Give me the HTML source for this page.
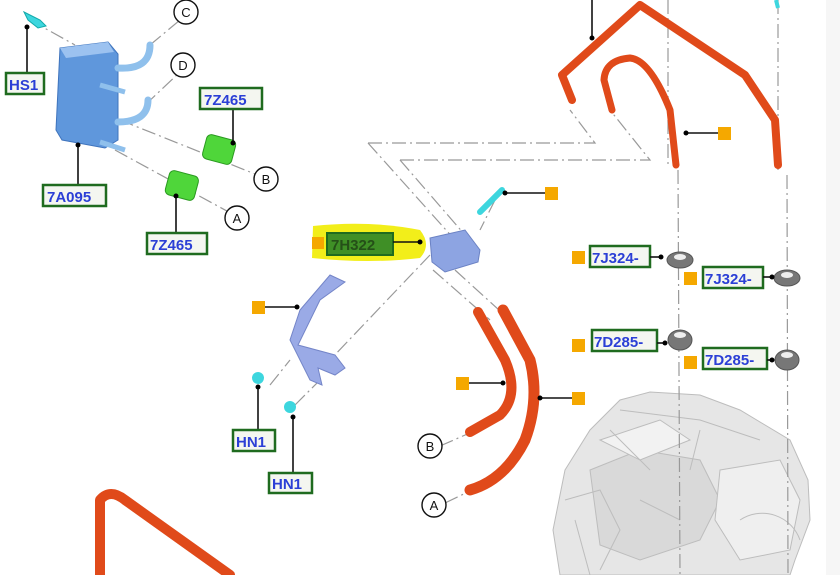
<!DOCTYPE html>
<html><head><meta charset="utf-8"><style>
html,body{margin:0;padding:0;background:#fff;}
svg{display:block;}
.lb{font-family:"Liberation Sans",sans-serif;font-weight:bold;font-size:15px;fill:#2b3fd6;}
.bx{fill:#f4f6f0;stroke:#1f6b1f;stroke-width:2.5;}
.ld{stroke:#111;stroke-width:1.6;fill:none;}
.dd{stroke:#999;stroke-width:1.2;fill:none;stroke-dasharray:14 4 2 4;}
.cl{fill:#fff;stroke:#111;stroke-width:1.4;}
.ct{font-family:"Liberation Sans",sans-serif;font-size:13px;fill:#111;text-anchor:middle;}
.sq{fill:#f5a800;}
.or{stroke:#e04a1a;fill:none;stroke-linecap:round;stroke-linejoin:round;}
</style></head><body>
<svg width="840" height="575" viewBox="0 0 840 575" xmlns="http://www.w3.org/2000/svg">
<rect width="840" height="575" fill="#fff"/>
<rect x="826" y="0" width="14" height="575" fill="#f6f6f6"/>
<!-- transmission -->
<g fill="#e6e6e6" stroke="#bdbdbd" stroke-width="1">
<path d="M565 470 L590 430 L620 400 L650 392 L700 395 L740 410 L790 440 L808 480 L810 520 L795 560 L790 575 L560 575 L553 530 Z"/>
<path d="M590 470 L640 450 L700 460 L720 500 L700 540 L640 560 L600 545 Z" fill="#d9d9d9"/>
<path d="M720 470 L780 460 L800 500 L790 550 L740 560 L715 520 Z" fill="#efefef"/>
<path d="M600 440 L660 420 L690 440 L640 460 Z" fill="#f2f2f2"/>
<path d="M740 520 a40 40 0 0 1 60 20" fill="none"/>
<path d="M565 500 L600 490 L620 530 L600 570" fill="none"/>
<path d="M620 410 L700 420 L760 440 M610 430 L650 470 M700 430 L690 470 M575 520 L590 575 M640 500 L680 520" fill="none"/>
</g>
<!-- dash-dot lines -->
<g class="dd">
<path d="M368 143 L595 143 L570 110"/>
<path d="M368 143 L455 240"/>
<path d="M400 160 L650 160 L610 110"/>
<path d="M400 160 L465 235"/>
<path d="M430 255 L330 360"/>
<path d="M433 270 L490 320"/>
<path d="M455 270 L510 320"/>
<path d="M668 0 L668 165"/>
<path d="M678 170 L680 575"/>
<path d="M778 0 L778 170"/>
<path d="M787 175 L788 575"/>
<path d="M30 20 L75 45"/>
<path d="M120 120 L265 178"/>
<path d="M115 150 L236 216"/>
<path d="M150 45 L180 20"/>
<path d="M145 105 L180 72"/>
<path d="M440 446 L472 432"/>
<path d="M445 503 L472 490"/>
<path d="M495 200 L480 230"/>
<path d="M270 385 L290 360"/>
<path d="M295 405 L320 380"/>
</g>
<!-- cooler -->
<g>
<path d="M60 48 L108 42 L118 54 L118 140 L105 148 L62 140 L56 130 Z" fill="#5f97dc" stroke="#3f74bd"/>
<path d="M60 48 L108 42 L114 52 L66 58 Z" fill="#9cc2f0"/>
<path d="M118 68 Q150 70 150 45" class="or" style="stroke:#8fc0ec;stroke-width:7"/>
<path d="M118 122 Q148 122 148 100" class="or" style="stroke:#8fc0ec;stroke-width:7"/>
<path d="M100 85 L125 92" stroke="#8fc0ec" stroke-width="5"/>
<path d="M100 142 L125 150" stroke="#8fc0ec" stroke-width="5"/>
</g>
<path d="M24 12 L40 20 L46 26 L38 28 L28 20 Z" fill="#3dd6de" stroke="#1aa"/>
<g fill="#4fd63a" stroke="#2a9a20">
<rect x="204" y="137" width="30" height="25" rx="5" transform="rotate(15 219 150)"/>
<rect x="167" y="173" width="30" height="25" rx="5" transform="rotate(15 182 185)"/>
</g>
<!-- cooler labels -->
<path class="ld" d="M27 26 L27 73"/><circle cx="27" cy="27" r="2.5"/>
<rect class="bx" x="6" y="73" width="38" height="21"/><text class="lb" x="9" y="90">HS1</text>
<path class="ld" d="M78 145 L78 185"/><circle cx="78" cy="145" r="2.5"/>
<rect class="bx" x="43" y="185" width="63" height="21"/><text class="lb" x="47" y="202">7A095</text>
<path class="ld" d="M233 109 L233 143"/><circle cx="233" cy="143" r="2.5"/>
<rect class="bx" x="200" y="88" width="62" height="21"/><text class="lb" x="204" y="105">7Z465</text>
<path class="ld" d="M176 195 L176 233"/><circle cx="176" cy="196" r="2.5"/>
<rect class="bx" x="147" y="233" width="60" height="21"/><text class="lb" x="150" y="250">7Z465</text>
<circle class="cl" cx="186" cy="12" r="12"/><text class="ct" x="186" y="17">C</text>
<circle class="cl" cx="183" cy="65" r="12"/><text class="ct" x="183" y="70">D</text>
<circle class="cl" cx="266" cy="179" r="12"/><text class="ct" x="266" y="184">B</text>
<circle class="cl" cx="237" cy="218" r="12"/><text class="ct" x="237" y="223">A</text>
<!-- middle -->
<path d="M313 226 Q370 220 420 230 Q432 245 420 258 Q370 264 312 258 Z" fill="#f2ee1a"/>
<rect class="sq" x="312" y="237" width="12" height="12"/>
<rect x="327" y="233" width="66" height="22" fill="#3f8f26" stroke="#1f6b1f" stroke-width="2"/>
<text x="331" y="250" style="font-family:'Liberation Sans',sans-serif;font-weight:bold;font-size:15px;fill:#255018">7H322</text>
<path class="ld" d="M393 242 L420 242"/><circle cx="420" cy="242" r="2.5"/>
<path d="M430 238 L465 230 L480 250 L478 262 L445 272 L432 262 Z" fill="#8da4e2" stroke="#6b82c4"/>
<path d="M480 212 L502 190" stroke="#3dd6de" stroke-width="6" stroke-linecap="round"/>
<path class="ld" d="M505 193 L545 193"/><circle cx="505" cy="193" r="2.5"/>
<rect class="sq" x="545" y="187" width="13" height="13"/>
<path d="M330 275 L345 282 L320 300 L298 345 L335 355 L345 368 L335 375 L318 368 L322 385 L310 380 L290 340 L300 310 Z" fill="#9aaae6" stroke="#7485c8"/>
<rect class="sq" x="252" y="301" width="13" height="13"/>
<path class="ld" d="M265 307 L297 307"/><circle cx="297" cy="307" r="2.5"/>
<circle cx="258" cy="378" r="6" fill="#3dd6de"/><circle cx="290" cy="407" r="6" fill="#3dd6de"/>
<path class="ld" d="M258 385 L258 430"/><circle cx="258" cy="387" r="2.5"/>
<path class="ld" d="M293 417 L293 473"/><circle cx="293" cy="417" r="2.5"/>
<rect class="bx" x="233" y="430" width="42" height="21"/><text class="lb" x="236" y="447">HN1</text>
<rect class="bx" x="269" y="473" width="43" height="20"/><text class="lb" x="272" y="489">HN1</text>
<!-- hoses -->
<path class="or" style="stroke-width:10" d="M478 312 L505 360 Q520 395 500 415 L470 432"/>
<path class="or" style="stroke-width:11" d="M503 310 L530 360 Q540 400 525 440 Q505 480 470 490"/>
<rect class="sq" x="456" y="377" width="13" height="13"/>
<path class="ld" d="M469 383 L503 383"/><circle cx="503" cy="383" r="2.5"/>
<rect class="sq" x="572" y="392" width="13" height="13"/>
<path class="ld" d="M540 398 L572 398"/><circle cx="540" cy="398" r="2.5"/>
<circle class="cl" cx="430" cy="446" r="12"/><text class="ct" x="430" y="451">B</text>
<circle class="cl" cx="434" cy="505" r="12"/><text class="ct" x="434" y="510">A</text>
<!-- top right pipes -->
<path class="or" style="stroke-width:8" d="M572 100 L562 75 L640 5 L745 75 L775 120 L778 165"/>
<path class="or" style="stroke-width:7" d="M612 110 L604 80 Q605 60 630 58 Q650 60 670 110 L676 165"/>
<path class="ld" d="M592 0 L592 38"/><circle cx="592" cy="38" r="2.5"/>
<path class="ld" d="M686 133 L718 133"/><circle cx="686" cy="133" r="2.5"/>
<rect class="sq" x="718" y="127" width="13" height="13"/>
<path d="M776 0 L778 8" stroke="#3dd6de" stroke-width="4"/>
<path class="or" style="stroke-width:10" d="M100 575 L100 500 Q110 488 125 500 L230 575"/>
<!-- grommets -->
<g fill="#777" stroke="#555">
<ellipse cx="680" cy="260" rx="13" ry="8"/><ellipse cx="787" cy="278" rx="13" ry="8"/>
<ellipse cx="680" cy="340" rx="12" ry="10"/><ellipse cx="787" cy="360" rx="12" ry="10"/>
</g>
<g fill="#eee"><ellipse cx="680" cy="257" rx="6" ry="3"/><ellipse cx="787" cy="275" rx="6" ry="3"/><ellipse cx="680" cy="335" rx="6" ry="3"/><ellipse cx="787" cy="355" rx="6" ry="3"/></g>
<rect class="sq" x="572" y="251" width="13" height="13"/>
<rect class="bx" x="590" y="246" width="60" height="21"/><text class="lb" x="592" y="263">7J324-</text>
<path class="ld" d="M650 257 L661 257"/><circle cx="661" cy="257" r="2.5"/>
<rect class="sq" x="684" y="272" width="13" height="13"/>
<rect class="bx" x="703" y="267" width="60" height="21"/><text class="lb" x="705" y="284">7J324-</text>
<path class="ld" d="M763 277 L772 277"/><circle cx="772" cy="277" r="2.5"/>
<rect class="sq" x="572" y="339" width="13" height="13"/>
<rect class="bx" x="592" y="330" width="65" height="21"/><text class="lb" x="594" y="347">7D285-</text>
<path class="ld" d="M657 343 L666 343"/><circle cx="665" cy="343" r="2.5"/>
<rect class="sq" x="684" y="356" width="13" height="13"/>
<rect class="bx" x="703" y="348" width="64" height="21"/><text class="lb" x="705" y="365">7D285-</text>
<path class="ld" d="M767 360 L772 360"/><circle cx="772" cy="360" r="2.5"/>
</svg>
</body></html>
